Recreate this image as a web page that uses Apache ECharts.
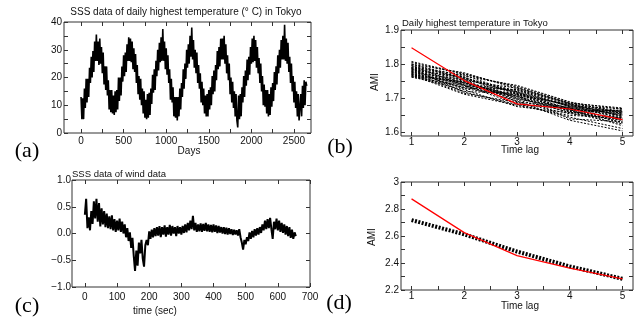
<!DOCTYPE html>
<html>
<head>
<meta charset="utf-8">
<script src="https://cdn.jsdelivr.net/npm/echarts@6/dist/echarts.min.js"></script>
<style>
html,body{margin:0;padding:0;background:#fff;}
#c{width:638px;height:320px;}
</style>
</head>
<body>
<div id="c"></div>
<script>
// (a) SSS daily highest temperature in Tokyo, sampled every 10 days (hand-read envelope)
const tempStep = 10;
const tempValues = [
13,5,12.5,5,16,9,19.5,11,19.5,13,23.5,18,27.5,20,29.5,22,33,26,35.5,26,33,
24.5,34,25,31,21.5,29,17.5,24,15.5,24,13.5,19,8.5,15.5,7.5,15.5,7,13.5,6.5,
15,7.5,15.5,8.5,20,11.5,20,13.5,24,18.5,28,20.5,29,22,32,26,34.5,26,34,
25.5,33,23,30.5,22,28.5,18,24.5,14,20.5,12,19.5,10,16,7,15,5.5,12,5,
14,5.5,14.5,6.5,16,10.5,21,14.5,23,15.5,26,20.5,30,22.5,32.5,25.5,34.5,26,37.5,
26,33,23,30.5,21,28,18,23,12,19.5,11,16.5,6,13,5.5,13,4.5,
13,6,16,8.5,18,13,23,16,25,19.5,30,23.5,32,25,35,27.5,38,
26.5,33.5,23.5,30,21.5,29,18,24.5,16,21.5,11,18.5,10,16,7,13.5,6,14,
6,15.5,8.5,16.5,10,20.5,14,22.5,15,24.5,19,29.5,23,31,24,34,26.5,34,26.5,
35,25,32,21.5,28,19,25,14,20,11,18.5,9,15,6,14,4.5,2,
13.5,5,14,6,16.5,11,20.5,13,22.5,17,26.5,19,27.5,21,31,25,34,25.5,35,
26,33.5,23.5,31,21.5,27,18,25,15,20.5,10,17.5,9.5,15.5,7,15.5,6,
14,6.5,16.5,9.5,18,11.5,22,15.5,24,17.5,28,21.5,30,23.5,33.5,26.5,35,26.5,39,
26,34,25,32.5,22,27.5,18,25,15,20.5,11,18.5,9,15,6,14,4.5,4,
14,6,17,9,19,10,18.5,17
];

// (c) SSS wind data, sampled every 4 s (hand-read envelope)
const windStep = 4;
const windValues = [
0.35,0.65,0.1,0.3,0.06,0.42,0.18,0.6,0.28,0.65,
0.22,0.57,0.13,0.47,0.17,0.42,0.12,0.37,0.1,0.32,
0.08,0.34,0.06,0.27,0.03,0.24,0.06,0.28,0.03,0.22,
0.0,0.17,-0.07,0.1,-0.14,0.02,-0.27,-0.08,-0.42,-0.7,
-0.32,-0.6,-0.17,-0.37,-0.12,-0.47,-0.62,-0.22,-0.12,-0.22,
0.04,-0.1,0.07,-0.07,0.1,-0.05,0.12,-0.04,0.14,-0.07,
0.12,-0.02,0.15,-0.06,0.12,-0.02,0.16,-0.04,0.14,0.0,
0.12,-0.05,0.14,0.0,0.12,-0.02,0.14,0.01,0.17,0.02,
0.2,0.06,0.24,0.08,0.33,0.06,0.2,0.03,0.17,0.04,
0.19,0.03,0.18,0.05,0.2,0.04,0.17,0.03,0.16,0.02,
0.17,0.03,0.15,0.01,0.14,0.02,0.12,0.0,0.12,-0.01,
0.11,-0.02,0.1,-0.01,0.08,-0.03,0.07,-0.02,0.06,-0.04,
0.08,-0.07,-0.17,-0.3,-0.12,-0.2,-0.07,-0.14,0.02,-0.1,
0.05,-0.07,0.08,-0.04,0.1,-0.02,0.12,0.01,0.17,0.06,
0.24,0.08,0.27,0.1,0.29,0.08,-0.1,0.22,0.08,0.28,
0.06,0.24,0.03,0.2,0.01,0.17,-0.02,0.14,-0.05,0.12,
-0.08,0.07,-0.1,0.02,-0.05
];

// (b) AMI vs time lag, temperature
const lags = [1,2,3,4,5];
const amiTempOriginal = [1.848,1.752,1.684,1.669,1.638];
const amiTempSurrogates = [
[1.805,1.770,1.735,1.688,1.668],
[1.800,1.775,1.728,1.682,1.660],
[1.798,1.765,1.738,1.690,1.655],
[1.795,1.760,1.722,1.678,1.670],
[1.792,1.768,1.715,1.670,1.650],
[1.790,1.752,1.730,1.685,1.662],
[1.788,1.745,1.705,1.672,1.645],
[1.786,1.758,1.718,1.668,1.658],
[1.785,1.740,1.712,1.680,1.640],
[1.783,1.762,1.700,1.665,1.665],
[1.782,1.735,1.725,1.675,1.652],
[1.780,1.750,1.695,1.660,1.635],
[1.778,1.728,1.708,1.683,1.648],
[1.776,1.755,1.690,1.670,1.628],
[1.775,1.720,1.715,1.662,1.642],
[1.773,1.745,1.720,1.676,1.660],
[1.772,1.715,1.688,1.655,1.638],
[1.770,1.742,1.702,1.667,1.620],
[1.768,1.712,1.680,1.650,1.644],
[1.766,1.732,1.710,1.640,1.632],
[1.765,1.748,1.698,1.673,1.654],
[1.763,1.725,1.676,1.658,1.625],
[1.762,1.738,1.684,1.645,1.612],
[1.808,1.772,1.732,1.686,1.672],
[1.796,1.738,1.692,1.636,1.605],
[1.790,1.762,1.712,1.664,1.630],
[1.779,1.730,1.726,1.684,1.647],
[1.769,1.748,1.706,1.658,1.666],
[1.787,1.718,1.682,1.671,1.637],
[1.801,1.756,1.716,1.679,1.657]
];

// (d) AMI vs time lag, wind
const amiWindOriginal = [2.875,2.625,2.455,2.362,2.282];
const amiWindSurrogate = [2.718,2.612,2.485,2.375,2.283];

// tick positions / labels
const aXTicks = [0,250,500,750,1000,1250,1500,1750,2000,2250,2500];
const aXLabels = [0,500,1000,1500,2000,2500];
const aYTicks = [0,5,10,15,20,25,30,35,40];
const aYLabels = [0,10,20,30,40];
const lagTicks = [1,1.5,2,2.5,3,3.5,4,4.5,5];
const lagLabels = [1,2,3,4,5];
const bYTicks = [1.6,1.65,1.7,1.75,1.8,1.85,1.9];
const bYLabels = [1.6,1.7,1.8,1.9];
const cXTicks = [0,100,200,300,400,500,600,700];
const cXLabels = [0,100,200,300,400,500,600,700];
const cYTicks = [-1,-0.5,0,0.5,1];
const cYLabels = [-1,-0.5,0,0.5,1];
const dYTicks = [2.2,2.3,2.4,2.5,2.6,2.7,2.8,2.9,3];
const dYLabels = [2.2,2.4,2.6,2.8,3];

const FONT = 'Liberation Sans, Arial, Helvetica, sans-serif';
const AX = '#333';
const TXT = '#111';

function mkX(grid, min, max, ticks, labels, fmt, pos, margin) {
  const main = pos === 'bottom';
  return {
    type: 'value', gridIndex: grid, min: min, max: max, position: pos,
    axisLine: { show: false, onZero: false },
    splitLine: { show: false },
    axisTick: { show: true, inside: true, length: 4, customValues: ticks, lineStyle: { color: AX, width: 1 } },
    axisLabel: { show: main, customValues: labels, margin: margin, color: TXT, fontSize: 10, fontFamily: FONT,
      formatter: fmt, showMinLabel: true, showMaxLabel: true },
  };
}
function mkY(grid, min, max, ticks, labels, fmt, pos, margin) {
  const main = pos === 'left';
  return {
    type: 'value', gridIndex: grid, min: min, max: max, position: pos,
    axisLine: { show: false, onZero: false },
    splitLine: { show: false },
    axisTick: { show: true, inside: true, length: 4, customValues: ticks, lineStyle: { color: AX, width: 1 } },
    axisLabel: { show: main, customValues: labels, margin: margin, color: TXT, fontSize: 10, fontFamily: FONT,
      formatter: fmt, showMinLabel: true, showMaxLabel: true },
  };
}
const fInt = v => String(Math.round(v));
const f1 = v => (Math.round(v * 10) / 10).toFixed(1).replace('-', '\u2212');
const fD = v => { const r = Math.round(v * 10) / 10; return String(r); };

const grids = [
  { left: 64, top: 22, width: 247, height: 111 },
  { left: 401, top: 30, width: 232, height: 106 },
  { left: 72, top: 180, width: 238, height: 107 },
  { left: 401, top: 182, width: 232, height: 108 },
].map(g => Object.assign({ show: true, borderColor: AX, borderWidth: 1, backgroundColor: 'transparent' }, g));

const xAxes = [
  mkX(0, -200, 2700, aXTicks, aXLabels, fInt, 'bottom', 3),
  mkX(1, 0.8, 5.2, lagTicks, lagLabels, fInt, 'bottom', 1),
  mkX(2, -40, 700, cXTicks, cXLabels, fInt, 'bottom', 5),
  mkX(3, 0.8, 5.2, lagTicks, lagLabels, fInt, 'bottom', 1),
  mkX(0, -200, 2700, aXTicks, aXLabels, fInt, 'top', 3),
  mkX(1, 0.8, 5.2, lagTicks, lagLabels, fInt, 'top', 2),
  mkX(2, -40, 700, cXTicks, cXLabels, fInt, 'top', 3),
  mkX(3, 0.8, 5.2, lagTicks, lagLabels, fInt, 'top', 2),
];
const yAxes = [
  mkY(0, 0, 40, aYTicks, aYLabels, fInt, 'left', 2),
  mkY(1, 1.59, 1.9, bYTicks, bYLabels, f1, 'left', 2),
  mkY(2, -1, 1, cYTicks, cYLabels, f1, 'left', 1),
  mkY(3, 2.2, 3, dYTicks, dYLabels, fD, 'left', 2),
  mkY(0, 0, 40, aYTicks, aYLabels, fInt, 'right', 2),
  mkY(1, 1.59, 1.9, bYTicks, bYLabels, f1, 'right', 2),
  mkY(2, -1, 1, cYTicks, cYLabels, f1, 'right', 2),
  mkY(3, 2.2, 3, dYTicks, dYLabels, fD, 'right', 2),
];

const series = [];
series.push({
  type: 'line', xAxisIndex: 0, yAxisIndex: 0, showSymbol: false, silent: true,
  data: tempValues.map((v, i) => [i * tempStep, v]),
  lineStyle: { color: '#000', width: 1.6 },
});
series.push({
  type: 'line', xAxisIndex: 2, yAxisIndex: 2, showSymbol: false, silent: true,
  data: windValues.map((v, i) => [i * windStep, v]),
  lineStyle: { color: '#000', width: 2 },
});
amiTempSurrogates.forEach(arr => {
  series.push({
    type: 'line', xAxisIndex: 1, yAxisIndex: 1, showSymbol: false, silent: true,
    data: lags.map((l, i) => [l, arr[i]]),
    lineStyle: { color: '#000', width: 1, type: [2, 1.5] },
  });
});
series.push({
  type: 'line', xAxisIndex: 1, yAxisIndex: 1, showSymbol: false, silent: true,
  data: lags.map((l, i) => [l, amiTempOriginal[i]]),
  lineStyle: { color: '#ff0000', width: 1.2 },
});
series.push({
  type: 'line', xAxisIndex: 3, yAxisIndex: 3, showSymbol: false, silent: true,
  data: lags.map((l, i) => [l, amiWindSurrogate[i]]),
  lineStyle: { color: '#000', width: 4, type: [2, 1.5] },
});
series.push({
  type: 'line', xAxisIndex: 3, yAxisIndex: 3, showSymbol: false, silent: true,
  data: lags.map((l, i) => [l, amiWindOriginal[i]]),
  lineStyle: { color: '#ff0000', width: 1.2 },
});

function txt(text, x, y, size, opts) {
  opts = opts || {};
  return {
    type: 'text', x: x, y: y, rotation: opts.rot || 0, silent: true,
    style: { text: text, fill: opts.fill || TXT, font: (size) + 'px ' + (opts.family || FONT),
      textAlign: opts.align || 'center', textVerticalAlign: 'middle' },
  };
}
const SERIF = '"Liberation Serif", "Times New Roman", serif';
const graphics = [
  txt('SSS data of daily highest temperature (\u00b0 C) in Tokyo', 186, 12, 10),
  txt('Days', 189, 151, 10),
  txt('(a)', 27, 151, 22, { family: SERIF, fill: '#000' }),
  txt('Daily highest temperature in Tokyo', 402, 23, 9.5, { align: 'left' }),
  txt('AMI', 375, 82, 10, { rot: Math.PI / 2 }),
  txt('Time lag', 520, 150, 10),
  txt('(b)', 340, 147, 22, { family: SERIF, fill: '#000' }),
  txt('SSS data of wind data', 72, 174, 9.5, { align: 'left' }),
  txt('time (sec)', 155, 311, 10),
  txt('(c)', 27, 306, 22, { family: SERIF, fill: '#000' }),
  txt('AMI', 372, 237, 10, { rot: Math.PI / 2 }),
  txt('Time lag', 520, 306, 10),
  txt('(d)', 339, 303, 22, { family: SERIF, fill: '#000' }),
];

const chart = echarts.init(document.getElementById('c'), null, { renderer: 'canvas' });
chart.setOption({
  animation: false,
  backgroundColor: '#fff',
  textStyle: { fontFamily: FONT },
  grid: grids,
  xAxis: xAxes,
  yAxis: yAxes,
  series: series,
  graphic: graphics,
});
</script>
</body>
</html>
